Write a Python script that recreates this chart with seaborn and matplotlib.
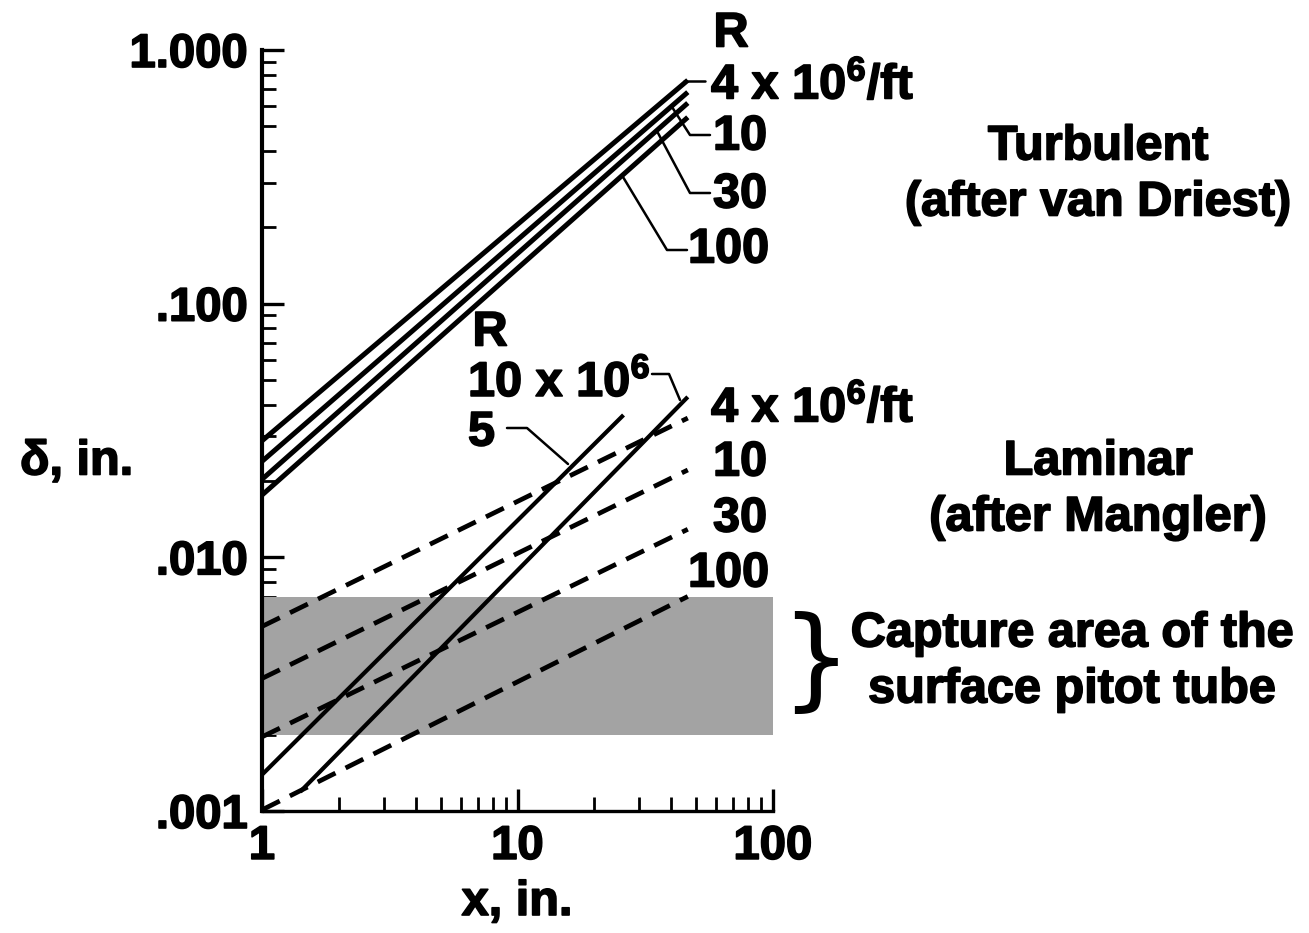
import numpy as np
import pandas as pd
import matplotlib
matplotlib.use("Agg")
import matplotlib.pyplot as plt
import matplotlib.patheffects as pe
from matplotlib.lines import Line2D
import seaborn as sns

# ---------------- data ----------------
# Turbulent boundary-layer thickness (after van Driest), R = 4, 10, 30, 100 x10^6/ft
turb_x = [1.0, 46.4]
turb_R4 = [0.0288, 0.760]
turb_R10 = [0.0239, 0.682]
turb_R30 = [0.0203, 0.618]
turb_R100 = [0.0176, 0.543]

# Laminar boundary-layer thickness (after Mangler)
lam_x = [1.0, 46.4]
lam_R4 = [0.00534, 0.0354]
lam_R10 = [0.00333, 0.0221]
lam_R30 = [0.00196, 0.0129]
lam_R100 = [0.00101, 0.00701]

# Solid laminar lines labelled R = 5 and 10 x10^6
sol_R5_x = [1.0, 26.0]
sol_R5_y = [0.00139, 0.0364]
sol_R10_x = [1.41, 46.4]
sol_R10_y = [0.00119, 0.0429]

# Capture area of the surface pitot tube
capture_x = [1.0, 100.0]
capture_low = 0.002
capture_high = 0.007

ytick_vals = [0.001, 0.01, 0.1, 1.0]
ytick_labels = [".001", ".010", ".100", "1.000"]
xtick_vals = [1, 10, 100]
xtick_labels = ["1", "10", "100"]

# ---------------- style ----------------
sns.set_style("ticks")
plt.rcParams["font.family"] = ["Liberation Sans", "DejaVu Sans"]
plt.rcParams["font.weight"] = "bold"
plt.rcParams["text.color"] = "black"
plt.rcParams["axes.labelcolor"] = "black"
plt.rcParams["xtick.color"] = "black"
plt.rcParams["ytick.color"] = "black"
plt.rcParams["xtick.labelcolor"] = "black"
plt.rcParams["ytick.labelcolor"] = "black"
plt.rcParams["axes.edgecolor"] = "black"
plt.rcParams["mathtext.fontset"] = "custom"
plt.rcParams["mathtext.rm"] = "Liberation Sans:bold"
plt.rcParams["mathtext.it"] = "Liberation Sans:bold"
plt.rcParams["mathtext.bf"] = "Liberation Sans:bold"

W, H = 1309, 933
fig = plt.figure(figsize=(W / 100, H / 100), dpi=100)
ax = fig.add_axes([262 / W, 1 - 811 / H, (773 - 262) / W, (811 - 50) / H])

FS = 35
HEAVY = [pe.withStroke(linewidth=1.2, foreground="black")]

# capture area
ax.fill_between(capture_x, [capture_low] * 2, [capture_high] * 2,
                color="#a3a3a3", linewidth=0, zorder=1)

# turbulent lines
for yv in [turb_R4, turb_R10, turb_R30, turb_R100]:
    df = pd.DataFrame({"x": turb_x, "y": yv})
    sns.lineplot(data=df, x="x", y="y", ax=ax, color="black", linewidth=3.6,
                 estimator=None, sort=False, zorder=3, solid_capstyle="butt")

# laminar dashed lines
for yv in [lam_R4, lam_R10, lam_R30, lam_R100]:
    df = pd.DataFrame({"x": lam_x, "y": yv})
    sns.lineplot(data=df, x="x", y="y", ax=ax, color="black", linewidth=3.4,
                 estimator=None, sort=False, zorder=3,
                 linestyle=(0, (4.2, 2.4)), dash_capstyle="butt")

# solid laminar lines
for xv, yv in [(sol_R5_x, sol_R5_y), (sol_R10_x, sol_R10_y)]:
    df = pd.DataFrame({"x": xv, "y": yv})
    sns.lineplot(data=df, x="x", y="y", ax=ax, color="black", linewidth=3.0,
                 estimator=None, sort=False, zorder=3, solid_capstyle="butt")

ax.set_xlabel("")
ax.set_ylabel("")
ax.set_xscale("log")
ax.set_yscale("log")
ax.set_xlim(1, 100)
ax.set_ylim(0.001, 1.0)
ax.set_xticks(xtick_vals)
ax.set_xticklabels(xtick_labels)
ax.set_yticks(ytick_vals)
ax.set_yticklabels(ytick_labels)
ax.xaxis.set_minor_locator(matplotlib.ticker.LogLocator(base=10, subs=np.arange(2, 10)))
ax.yaxis.set_minor_locator(matplotlib.ticker.LogLocator(base=10, subs=np.arange(2, 10)))
ax.xaxis.set_minor_formatter(matplotlib.ticker.NullFormatter())
ax.yaxis.set_minor_formatter(matplotlib.ticker.NullFormatter())

ax.tick_params(which="major", direction="in", length=16, width=2.4,
               labelsize=34, pad=10, color="black", labelcolor="black")
ax.tick_params(which="minor", direction="in", length=10, width=2.0, color="black")
for lab in ax.get_xticklabels() + ax.get_yticklabels():
    lab.set_fontweight("bold")
    lab.set_color("black")
    lab.set_path_effects(HEAVY)

for s in ["top", "right"]:
    ax.spines[s].set_visible(False)
ax.spines["left"].set_linewidth(3.0)
ax.spines["bottom"].set_linewidth(2.4)
ax.spines["left"].set_color("black")
ax.spines["bottom"].set_color("black")
ax.set_facecolor("white")


# ---------------- annotations (pixel-based layout) ----------------
def ftxt(px, py, s, ha="left", va="center", fs=FS):
    fig.text(px / W, 1 - py / H, s, ha=ha, va=va, fontsize=fs,
             fontweight="bold", color="black", path_effects=HEAVY)


def leader(pts, lw=1.8):
    xs = [p[0] / W for p in pts]
    ys = [1 - p[1] / H for p in pts]
    fig.add_artist(Line2D(xs, ys, color="black", linewidth=lw,
                          transform=fig.transFigure))


# axis titles
ftxt(517, 915, "x, in.", ha="center", va="baseline")
ftxt(20, 462, "δ, in.", ha="left", va="center")

sup = r"4 x 10$^{6}$/ft"

# turbulent labels
ftxt(731, 34, "R", ha="center")
ftxt(711, 85, sup)
ftxt(713, 137, "10")
ftxt(713, 195, "30")
ftxt(688, 250, "100")
leader([(684, 81), (705, 81)])
leader([(672, 107), (690, 135), (710, 135)])
leader([(658, 133), (690, 193), (710, 193)])
leader([(623, 177), (667, 250), (687, 250)])
ftxt(1098, 147, "Turbulent", ha="center")
ftxt(1098, 203, "(after van Driest)", ha="center")

# laminar labels
ftxt(490, 333, "R", ha="center")
ftxt(468, 383, r"10 x 10$^{6}$")
ftxt(468, 433, "5")
leader([(507, 428), (527, 428), (568, 464)])
leader([(652, 374), (669, 374), (680, 400)])
ftxt(711, 408, sup)
ftxt(713, 463, "10")
ftxt(713, 519, "30")
ftxt(688, 574, "100")
ftxt(1098, 462, "Laminar", ha="center")
ftxt(1098, 518, "(after Mangler)", ha="center")

# capture area text with brace
fig.text(816 / W, 1 - 664 / H, "}", ha="center", va="center", fontsize=80,
         fontweight="normal", family="DejaVu Sans", color="black")
ftxt(1072, 634, "Capture area of the", ha="center")
ftxt(1072, 690, "surface pitot tube", ha="center")

fig.savefig("out.png", dpi=100, facecolor="white")
